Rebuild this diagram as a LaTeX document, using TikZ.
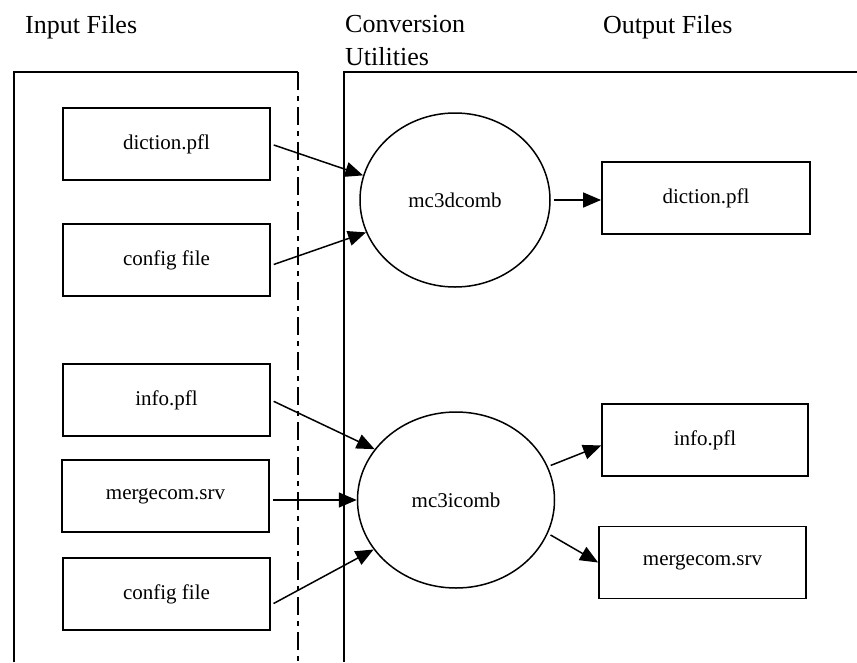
\documentclass[tikz,border=0pt]{standalone}
\usepackage{fontspec}
\setmainfont{Liberation Serif}
\usetikzlibrary{arrows.meta, shapes.geometric}
\begin{document}
\begin{tikzpicture}[x=1pt, y=-1pt,
        file/.style={draw, line width=1.8pt, minimum width=207pt, minimum height=72pt, font=\fontsize{21}{25}\selectfont},
        util/.style={draw, ellipse, line width=1.5pt, font=\fontsize{21}{25}\selectfont},
        title/.style={anchor=north west, inner sep=0pt, align=left, font=\fontsize{26}{33}\selectfont},
        frame/.style={line width=1.8pt},
        flow/.style={line width=1.5pt, shorten <=3pt, -{Triangle[length=18pt, width=15pt]}}]
    \useasboundingbox (0, 0) rectangle (857, 662);
    % column titles
    \node (tin) at (25, 15) [title] {Input Files};
    \node (tconv) at (345, 15) [title] {Conversion\\Utilities};
    \node (tout) at (603, 15) [title] {Output Files};
    % frames
    \draw[frame] (14, 662) -- (14, 72) -- (298, 72);
    \draw[frame, dash pattern=on 18pt off 6pt on 5pt off 6pt] (298, 72) -- (298, 662);
    \draw[frame] (344, 662) -- (344, 72) -- (857, 72);
    % input files
    \node (dict) at (166.5, 144) [file] {diction.pfl};
    \node (cfga) at (166.5, 260) [file] {config file};
    \node (info) at (166.5, 400) [file] {info.pfl};
    \node (merg) at (165.5, 496) [file] {mergecom.srv};
    \node (cfgb) at (166.5, 594) [file] {config file};
    % conversion utilities
    \node (mcd) at (455, 200) [util, minimum width=190pt, minimum height=174pt] {mc3dcomb};
    \node (mci) at (456, 500) [util, minimum width=197pt, minimum height=176pt] {mc3icomb};
    % output files
    \node (odict) at (706, 198) [file, minimum width=208pt] {diction.pfl};
    \node (oinfo) at (705, 440) [file, minimum width=206pt] {info.pfl};
    \node (omerg) at (702.5, 562.5) [file] {mergecom.srv};
    \draw[flow] (dict.east) -- (mcd.165);
    \draw[flow] (cfga.-3) -- (mcd.200);
    \draw[flow] (mcd.east) -- (mcd.east -| odict.west);
    \draw[flow] (info.east) -- (mci.148);
    \draw[flow] (mci.west -| merg.east) -- (mci.west);
    \draw[flow] (cfgb.-6) -- (mci.211);
    \draw[flow] (mci.20) -- (oinfo.183);
    \draw[flow] (mci.-20) -- (omerg.west);
\end{tikzpicture}
\end{document}
